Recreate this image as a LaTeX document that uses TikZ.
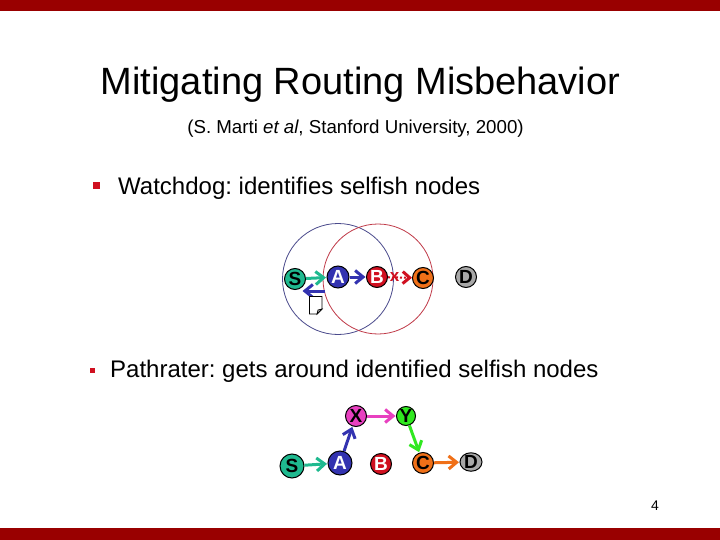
\documentclass[tikz,border=0pt]{standalone}
\usepackage{fontspec}
\setmainfont{Liberation Sans}
\usetikzlibrary{arrows.meta,shapes.geometric}
\definecolor{barred}{HTML}{990000}
\definecolor{tealc}{HTML}{1FB98F}
\definecolor{bluec}{HTML}{3333B0}
\definecolor{redc}{HTML}{D01020}
\definecolor{orangec}{HTML}{F07018}
\definecolor{grayc}{HTML}{A8A8A8}
\definecolor{magc}{HTML}{E840C0}
\definecolor{greenc}{HTML}{30E820}
\definecolor{ringblue}{HTML}{4A4A8C}
\definecolor{ringred}{HTML}{C03A48}
\tikzset{
  netnode/.style={circle,draw=black,line width=1pt,minimum size=#1,inner sep=0pt,font=\fontsize{19}{19}\selectfont\bfseries},
  netnode/.default=21pt,
  conn/.style={line width=3pt,-{Straight Barb[length=8pt,width=13pt,line width=3pt]},shorten >=0.5pt},
  ring/.style={circle,line width=0.8pt,inner sep=0pt,fill=none},
  heading/.style={anchor=base west,inner sep=0pt,font=\fontsize{24}{24}\selectfont},
}
\begin{document}
\frenchspacing
\begin{tikzpicture}[x=1pt,y=-1pt]
\useasboundingbox (0,0) rectangle (720,540);
\fill[white] (0,0) rectangle (720,540);
\fill[barred] (0,0) rectangle (720,11);
\fill[barred] (0,528) rectangle (720,540);
\node[anchor=base,inner sep=0pt,font=\fontsize{38}{38}\selectfont] (title) at (360.5,95) {Mitigating Routing Misbehavior};
\node[anchor=base,inner sep=0pt,font=\fontsize{18.7}{19}\selectfont] (sub) at (355.5,134) {(S. Marti \textit{et al}, Stanford University, 2000)};
\node[fill=redc,minimum size=7pt,inner sep=0pt] (b1) at (96,186) {};
\node[heading] (t1) at (118,195) {Watchdog: identifies selfish nodes};
\node[fill=redc,minimum size=5pt,inner sep=0pt] (b2) at (92,370) {};
\node[heading] (t2) at (110,377) {Pathrater: gets around identified selfish nodes};
% rings
\node[ring,draw=ringblue,minimum size=111pt] (r1) at (338,279) {};
\node[ring,draw=ringred,minimum size=110pt] (r2) at (378,279) {};
% first network
\node[netnode,fill=tealc] (s1) at (295,279) {S};
\node[netnode=22pt,fill=bluec,text=white] (a1) at (338,277) {A};
\node[netnode,fill=redc,text=white] (b1n) at (377,277) {B};
\node[netnode,fill=orangec] (c1) at (423,278) {C};
\node[netnode,fill=grayc] (d1) at (466,277) {D};
\draw[conn,tealc] (s1) -- (a1);
\draw[conn,bluec] (a1) -- (b1n);
\draw[line width=2pt,redc,dotted,-{Straight Barb[length=7pt,width=12pt,line width=3pt]}] (b1n) -- (c1);
\node[inner sep=0pt,text=redc,font=\fontsize{17}{17}\selectfont\bfseries] (cross) at (394.5,277.5) {x};
\coordinate (backs) at (325,291);
\coordinate (backe) at (302,291);
\draw[conn,bluec] (backs) -- (backe);
\draw[fill=white,line width=0.8pt] (309.5,296.5) -- (322,296.5) -- (322,309) -- (317,314) -- (309.5,314) -- cycle;
\draw[line width=0.7pt,fill=gray!70] (317,314) -- (318,310) -- (322,309) -- cycle;
% second network
\node[netnode,fill=magc] (x2) at (356,416) {X};
\node[netnode=19pt,fill=greenc] (y2) at (406,416) {Y};
\node[netnode=24pt,fill=tealc] (s2) at (292,466) {S};
\node[netnode=24pt,fill=bluec,text=white] (a2) at (340,463) {A};
\node[netnode,fill=redc,text=white] (b2n) at (381,464) {B};
\node[netnode,fill=orangec] (c2) at (423,463) {C};
\node[netnode=17pt,fill=grayc,shape=ellipse,minimum width=22pt] (d2) at (471,462) {D};
\draw[conn,tealc] (s2) -- (a2);
\draw[conn,bluec] (a2) -- (x2);
\draw[conn,magc] (x2) -- (y2);
\draw[conn,greenc] (y2) -- (c2);
\draw[conn,orangec] (c2) -- (d2);
\node[anchor=base,inner sep=0pt,font=\fontsize{14}{14}\selectfont] (pg) at (655,510) {4};
\end{tikzpicture}
\end{document}
